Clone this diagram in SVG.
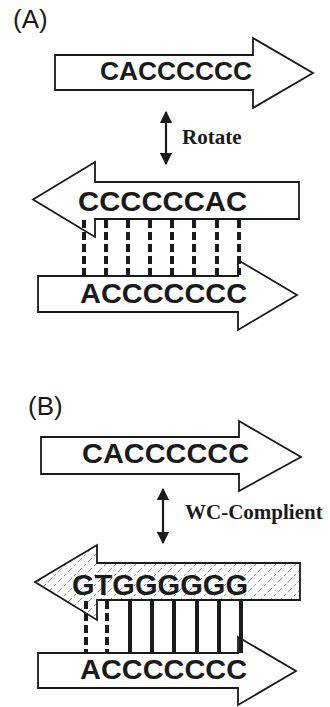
<svg xmlns="http://www.w3.org/2000/svg" width="330" height="707" viewBox="0 0 330 707">
  <style>
    .strand { fill: #fff; stroke: #1a1a1a; stroke-width: 1.8; stroke-linejoin: miter; }
    .hatched { fill: url(#hatch); stroke: #1a1a1a; stroke-width: 1.8; }
    .seq { font-family: "Liberation Sans", Arial, sans-serif; font-weight: bold; fill: #1a1a1a; }
    .panel { font-family: "Liberation Sans", Arial, sans-serif; font-size: 26px; fill: #1a1a1a; }
    .op { font-family: "Liberation Serif", "Times New Roman", serif; font-weight: bold; font-size: 21px; fill: #1a1a1a; }
    .dbl { stroke: #1a1a1a; stroke-width: 2.2; fill: none; marker-start: url(#tip); marker-end: url(#tip); }
    .pair-weak { stroke: #1a1a1a; stroke-width: 4; stroke-dasharray: 8 4; fill: none; }
    .pair-strong { stroke: #1a1a1a; stroke-width: 4; fill: none; }
  </style>
  <defs>
    <marker id="tip" viewBox="0 0 10 10" refX="9" refY="5" markerWidth="5.5" markerHeight="5.5" orient="auto-start-reverse" markerUnits="strokeWidth">
      <path d="M0,0 L10,5 L0,10 Z" fill="#1a1a1a"/>
    </marker>
    <pattern id="hatch" width="10" height="10" patternUnits="userSpaceOnUse">
      <rect width="10" height="10" fill="#fff"/>
      <path d="M0,10 L10,0" stroke="#666" stroke-width="0.7" stroke-dasharray="3 2.5"/>
    </pattern>
  </defs>

  <!-- panel A -->
  <text class="panel" x="13" y="28">(A)</text>

  <g id="a-strand-top">
    <path class="strand" d="M55,55 H253 V38 L313,73 L253,108 V90 H55 Z"/>
    <text class="seq" x="100" y="80" font-size="25" textLength="152" lengthAdjust="spacingAndGlyphs">CACCCCCC</text>
  </g>

  <g id="a-strand-rotated">
    <path class="strand" d="M299,182 H95 V162 L33,199.5 L95,237 V219 H299 Z"/>
    <text class="seq" x="78" y="211" font-size="28" textLength="169" lengthAdjust="spacingAndGlyphs">CCCCCCAC</text>
  </g>

  <g id="a-strand-bottom">
    <path class="strand" d="M38,276 H238 V260 L297,295 L238,330 V312 H38 Z"/>
    <text class="seq" x="80" y="303" font-size="28" textLength="167" lengthAdjust="spacingAndGlyphs">ACCCCCCC</text>
  </g>

  <g id="a-rotate-label">
    <text class="op" x="182" y="144">Rotate</text>
  </g>

  <!-- panel B -->
  <text class="panel" x="28" y="415">(B)</text>

  <g id="b-strand-top">
    <path class="strand" d="M41,437 H239 V421 L301,457 L239,491 V474 H41 Z"/>
    <text class="seq" x="82" y="463" font-size="28" textLength="167" lengthAdjust="spacingAndGlyphs">CACCCCCC</text>
  </g>

  <g id="b-strand-complement">
    <path class="hatched" d="M300,563 H97 V545 L35,582 L97,620 V600 H300 Z"/>
    <text class="seq" x="72" y="595" font-size="29" textLength="176" lengthAdjust="spacingAndGlyphs">GTGGGGGG</text>
  </g>

  <g id="b-strand-bottom">
    <path class="strand" d="M38,653 H238 V637 L296,671 L238,705 V688 H38 Z"/>
    <text class="seq" x="80" y="679" font-size="28" textLength="167" lengthAdjust="spacingAndGlyphs">ACCCCCCC</text>
  </g>

  <g id="b-wc-label">
    <text class="op" x="185" y="519">WC-Complient</text>
  </g>

  <!-- connectors: transform arrows and base-pair bonds -->
  <g id="connectors">
    <line class="dbl" x1="166" y1="164" x2="166" y2="112"/>
    <line class="dbl" x1="163" y1="543" x2="163" y2="489"/>

    <g id="a-pairs">
      <line class="pair-weak" x1="84" y1="220" x2="84" y2="275"/>
      <line class="pair-weak" x1="106" y1="220" x2="106" y2="275"/>
      <line class="pair-weak" x1="128" y1="220" x2="128" y2="275"/>
      <line class="pair-weak" x1="150" y1="220" x2="150" y2="275"/>
      <line class="pair-weak" x1="172" y1="220" x2="172" y2="275"/>
      <line class="pair-weak" x1="194" y1="220" x2="194" y2="275"/>
      <line class="pair-weak" x1="217" y1="220" x2="217" y2="275"/>
      <line class="pair-weak" x1="239" y1="220" x2="239" y2="275"/>
    </g>

    <g id="b-pairs">
      <line class="pair-weak" x1="86" y1="601" x2="86" y2="652"/>
      <line class="pair-weak" x1="107" y1="601" x2="107" y2="652"/>
      <line class="pair-strong" x1="130" y1="600" x2="130" y2="652"/>
      <line class="pair-strong" x1="152" y1="600" x2="152" y2="652"/>
      <line class="pair-strong" x1="174" y1="600" x2="174" y2="652"/>
      <line class="pair-strong" x1="197" y1="600" x2="197" y2="652"/>
      <line class="pair-strong" x1="219" y1="600" x2="219" y2="652"/>
      <line class="pair-strong" x1="241" y1="600" x2="241" y2="653"/>
    </g>
  </g>
</svg>
